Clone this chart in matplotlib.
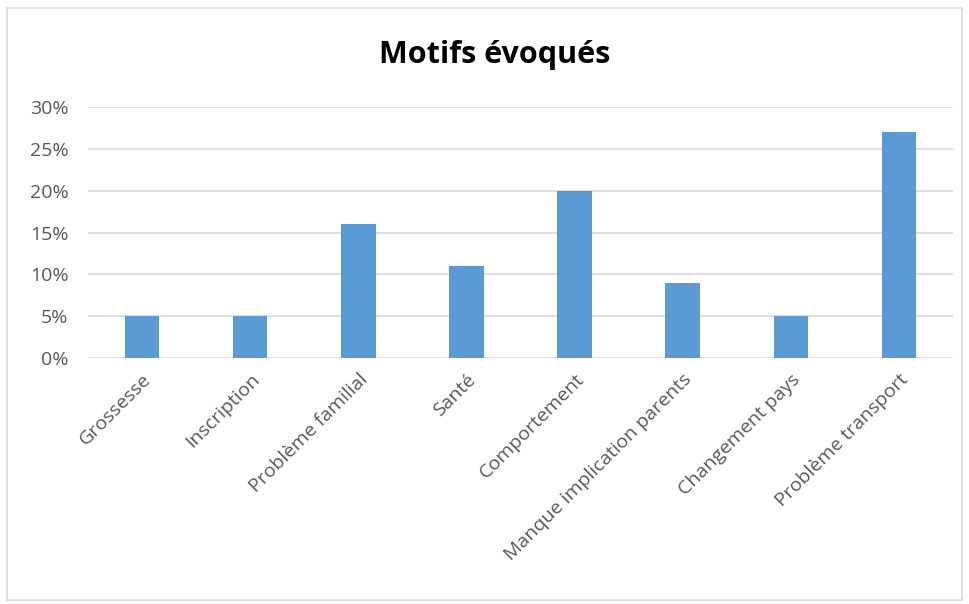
import matplotlib.pyplot as plt
from matplotlib.patches import Rectangle
from matplotlib.ticker import PercentFormatter

categories = [
    "Grossesse",
    "Inscription",
    "Problème familial",
    "Santé",
    "Comportement",
    "Manque implication parents",
    "Changement pays",
    "Problème transport",
]
values = [0.05, 0.05, 0.16, 0.11, 0.20, 0.09, 0.05, 0.27]
y_ticks = [0, 0.05, 0.10, 0.15, 0.20, 0.25, 0.30]

plt.rcParams["font.family"] = ["Open Sans", "DejaVu Sans"]

fig = plt.figure(figsize=(9.7, 6.04), dpi=100)
fig.patches.append(
    Rectangle((7 / 970, 4 / 604), 955 / 970, 592 / 604, transform=fig.transFigure,
              fill=False, edgecolor="#d9d9d9", linewidth=1.2)
)

ax = fig.add_axes([88 / 970, 1 - 358 / 604, 865 / 970, 251 / 604])
x = range(len(categories))
ax.bar(x, values, width=0.32, color="#5b9bd5", zorder=3)

ax.set_xlim(-0.5, len(categories) - 0.5)
ax.set_ylim(0, 0.30)
ax.set_yticks(y_ticks)
ax.yaxis.set_major_formatter(PercentFormatter(1.0, decimals=0))
ax.grid(axis="y", color="#d9d9d9", linewidth=1.2, zorder=0)
for side in ["top", "right", "left", "bottom"]:
    ax.spines[side].set_visible(False)
ax.tick_params(axis="both", length=0, labelcolor="#595959")
ax.tick_params(axis="y", pad=14, labelsize=14)
ax.set_xticks(list(x))
ax.set_xticklabels(categories, rotation=45, ha="right", rotation_mode="anchor")
ax.tick_params(axis="x", pad=9, labelsize=14)

fig.text(495 / 970, 1 - 55 / 604, "Motifs évoqués", ha="center", va="center",
         fontsize=22, fontweight="bold", color="black")

fig.savefig("out.png", dpi=100)
